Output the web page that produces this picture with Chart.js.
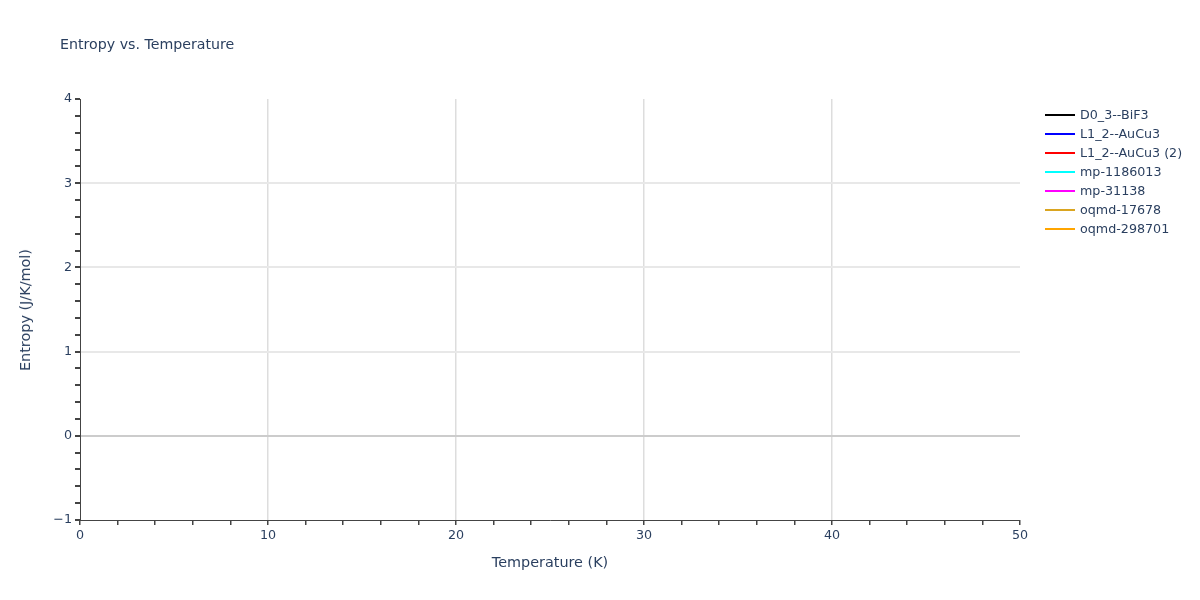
<!DOCTYPE html>
<html lang="en">
<head>
    <meta charset="UTF-8">
    <title>Entropy vs. Temperature</title>
    <script src="https://cdn.jsdelivr.net/npm/chart.js"></script>
    <style>
        body {
            margin: 0;
            background: white;
            font-family: 'DejaVu Sans', Verdana, sans-serif;
            color: #2a3f5f;
        }
        .wrap {
            position: relative;
            width: 1200px;
            height: 600px;
        }
        .title {
            position: absolute;
            left: 60px;
            top: 36px;
            font-size: 14.2px;
        }
        .xtitle {
            position: absolute;
            left: 80px;
            width: 940px;
            top: 554px;
            text-align: center;
            font-size: 14.4px;
        }
        .ytitle {
            position: absolute;
            left: 25px;
            top: 310px;
            font-size: 14.4px;
            transform: translate(-50%, -50%) rotate(-90deg);
            white-space: nowrap;
        }
        .legend {
            position: absolute;
            left: 1045px;
            top: 105px;
            font-size: 12.7px;
        }
        .legend div {
            height: 19px;
            display: flex;
            align-items: center;
        }
        .legend span.line {
            display: inline-block;
            width: 30px;
            height: 2px;
            margin-right: 5px;
        }
    </style>
</head>
<body>
    <div class="wrap">
        <canvas id="chart" width="1200" height="600"></canvas>
        <div class="title">Entropy vs. Temperature</div>
        <div class="xtitle">Temperature (K)</div>
        <div class="ytitle">Entropy (J/K/mol)</div>
        <div class="legend" id="legend"></div>
    </div>

    <script>
        // series shown in the legend; no curves are visible inside the plotted range
        const seriesNames = ['D0_3--BiF3', 'L1_2--AuCu3', 'L1_2--AuCu3 (2)', 'mp-1186013', 'mp-31138', 'oqmd-17678', 'oqmd-298701'];
        const seriesColors = ['black', 'blue', 'red', 'cyan', 'magenta', 'goldenrod', 'orange'];
        const temperatures = [];
        const entropyValues = [[], [], [], [], [], [], []];

        const xRange = [0, 50];
        const yRange = [-1, 4];

        const isInt = v => Math.abs(v - Math.round(v)) < 1e-6;
        const near = (a, b) => Math.abs(a - b) < 1e-6;

        const datasets = seriesNames.map((name, i) => ({
            label: name,
            data: entropyValues[i].map((y, j) => ({ x: temperatures[j], y: y })),
            borderColor: seriesColors[i],
            backgroundColor: seriesColors[i],
            borderWidth: 2,
            pointRadius: 0,
            fill: false
        }));

        document.getElementById('legend').innerHTML = seriesNames.map((name, i) =>
            `<div><span class="line" style="background:${seriesColors[i]}"></span>${name}</div>`
        ).join('');

        new Chart(document.getElementById('chart'), {
            type: 'line',
            data: { datasets: datasets },
            options: {
                responsive: false,
                animation: false,
                layout: { padding: { left: 0, right: 180, top: 99, bottom: 0 } },
                plugins: {
                    legend: { display: false },
                    title: { display: false },
                    tooltip: { enabled: false }
                },
                scales: {
                    x: {
                        type: 'linear',
                        min: xRange[0],
                        max: xRange[1],
                        afterFit: s => { s.height = 80; },
                        ticks: {
                            stepSize: 2,
                            autoSkip: false,
                            maxRotation: 0,
                            padding: 3,
                            color: '#2a3f5f',
                            font: { family: 'DejaVu Sans', size: 12.7 },
                            callback: v => (v % 10 === 0 ? String(v) : '')
                        },
                        grid: {
                            color: c => (c.tick && c.tick.value % 10 === 0 && c.tick.value > xRange[0] && c.tick.value < xRange[1]) ? '#dddddd' : 'transparent',
                            tickColor: '#444',
                            tickLength: 5,
                            lineWidth: 1.5
                        },
                        border: { color: '#444', width: 1 }
                    },
                    y: {
                        min: yRange[0],
                        max: yRange[1],
                        afterFit: s => { s.width = 80; },
                        ticks: {
                            stepSize: 0.2,
                            autoSkip: false,
                            padding: 3,
                            color: '#2a3f5f',
                            font: { family: 'DejaVu Sans', size: 12.7 },
                            callback: v => (isInt(v) ? String(Math.round(v)).replace('-', '\u2212') : '')
                        },
                        grid: {
                            color: c => {
                                if (!c.tick) return 'transparent';
                                const v = c.tick.value;
                                if (!isInt(v) || near(v, yRange[0]) || near(v, yRange[1])) return 'transparent';
                                return near(v, 0) ? '#cccccc' : '#e8e8e8';
                            },
                            lineWidth: 2,
                            tickColor: '#444',
                            tickLength: 5
                        },
                        border: { color: '#444', width: 1 }
                    }
                }
            }
        });
    </script>
</body>
</html>
